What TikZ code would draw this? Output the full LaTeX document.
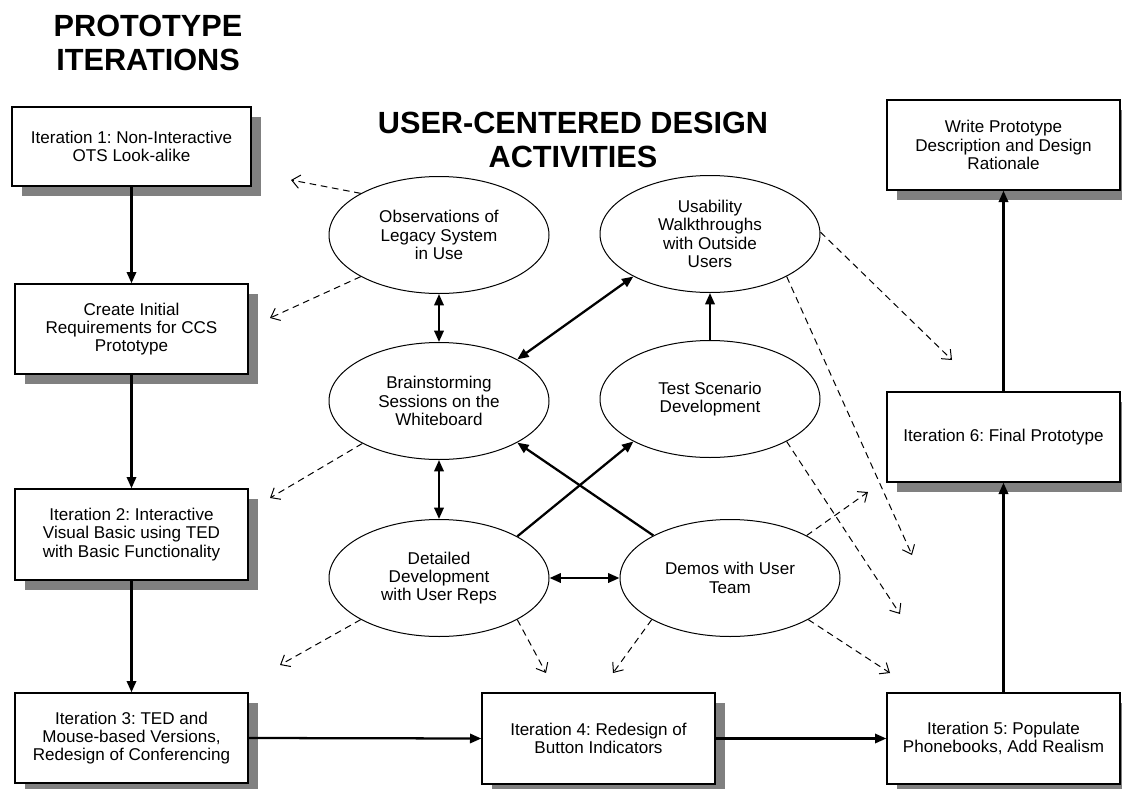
\documentclass[tikz,border=0pt]{standalone}
\usepackage{fontspec}
\setmainfont{Liberation Sans}
\usetikzlibrary{arrows.meta,shapes.geometric,shadows}
\definecolor{shadowgray}{HTML}{808080}
\frenchspacing
\begin{document}
\begin{tikzpicture}[x=0.75pt,y=-0.75pt,
  lbl/.style={font=\fontsize{12.8}{13.75}\selectfont, align=center},
  ibox/.style={lbl, draw=black, line width=1pt, fill=white, rectangle, inner sep=0pt,
    minimum width=174.75pt, minimum height=67.5pt,
    general shadow={fill=shadowgray, shadow xshift=7.5pt, shadow yshift=-7.5pt}},
  act/.style={lbl, draw=black, line width=0.75pt, fill=white, ellipse, inner sep=0pt,
    minimum width=165pt, minimum height=87.75pt},
  title/.style={font=\fontsize{23}{25.5}\selectfont\bfseries, align=center},
  flow/.style={line width=1.7pt, -{Triangle[length=8.5pt,width=7pt]}},
  both/.style={line width=1.7pt, {Triangle[length=8.5pt,width=7pt]}-{Triangle[length=8.5pt,width=7pt]}},
  feed/.style={line width=0.75pt, dash pattern=on 5pt off 3.5pt, -{Straight Barb[length=6pt,width=10pt]}}
]
\useasboundingbox (0,0) rectangle (1122,789);

% titles
\node[title] (t1) at (148,42.5) {PROTOTYPE\\ITERATIONS};
\node[title] (t2) at (573,140) {USER-CENTERED DESIGN\\ACTIVITIES};

% prototype iteration boxes
\node[ibox, minimum width=179.25pt, minimum height=59.25pt] (b1) at (131.5,146.5) {Iteration 1: Non-Interactive\\OTS Look-alike};
\node[ibox] (b2) at (131.5,329) {Create Initial\\Requirements for CCS\\Prototype};
\node[ibox, minimum height=68.25pt] (b3) at (131.5,534.5) {Iteration 2: Interactive\\Visual Basic using TED\\with Basic Functionality};
\node[ibox] (b4) at (131.5,738) {Iteration 3: TED and\\Mouse-based Versions,\\Redesign of Conferencing};
\node[ibox, minimum height=68.25pt] (b5) at (598.5,738.5) {Iteration 4: Redesign of\\Button Indicators};
\node[ibox, minimum height=68.25pt] (b6) at (1003.5,738.5) {Iteration 5: Populate\\Phonebooks, Add Realism};
\node[ibox] (b7) at (1003.5,437) {Iteration 6: Final Prototype};
\node[ibox] (b8) at (1003.5,145) {Write Prototype\\Description and Design\\Rationale};

% activities
\node[act] (obs) at (439,235) {Observations of\\Legacy System\\in Use};
\node[act] (usa) at (710,234) {Usability\\Walkthroughs\\with Outside\\Users};
\node[act] (bra) at (439,401) {Brainstorming\\Sessions on the\\Whiteboard};
\node[act] (tes) at (710,399) {Test Scenario\\Development};
\node[act] (det) at (439,578) {Detailed\\Development\\with User Reps};
\node[act] (dem) at (730,578) {Demos with User\\Team};

% flow of iterations
\draw[flow] (b1.south) -- (b2.north);
\draw[flow] (b2.south) -- (b3.north);
\draw[flow] (b3.south) -- (b4.north);
\draw[flow] (b4.east) -- (b5.west);
\draw[flow] (b5.east) -- (b6.west);
\draw[flow] (b6.north) -- (b7.south);
\draw[flow] (b7.north) -- (b8.south);

% activity links
\draw[both] (obs.south) -- (bra.north);
\draw[both] (bra.south) -- (det.north);
\draw[both] (det.east) -- (dem.west);
\draw[flow] (tes.north) -- (usa.south);
\draw[both] (bra.28.5) -- (usa.209);
\draw[flow] (det.28.6) -- (tes.209);
\draw[flow] (dem.151.4) -- (bra.-28.3);

% feedback (dashed) arrows
\coordinate (f1) at (291,180);
\coordinate (f2) at (270,318);
\coordinate (f3) at (270,498);
\coordinate (f4) at (280,665);
\coordinate (f5) at (546,673);
\coordinate (f6) at (613,673);
\coordinate (f7) at (890,673);
\coordinate (f8) at (868,492);
\coordinate (f9) at (900,614);
\coordinate (f10) at (912,555);
\coordinate (f11) at (952,360);
\draw[feed] (obs.152) -- (f1);
\draw[feed] (obs.208) -- (f2);
\draw[feed] (bra.209) -- (f3);
\draw[feed] (det.208) -- (f4);
\draw[feed] (det.-28) -- (f5);
\draw[feed] (dem.208) -- (f6);
\draw[feed] (dem.-28) -- (f7);
\draw[feed] (dem.29) -- (f8);
\draw[feed] (tes.-29) -- (f9);
\draw[feed] (usa.-29) -- (f10);
\draw[feed] (usa.1) -- (f11);
\end{tikzpicture}
\end{document}
